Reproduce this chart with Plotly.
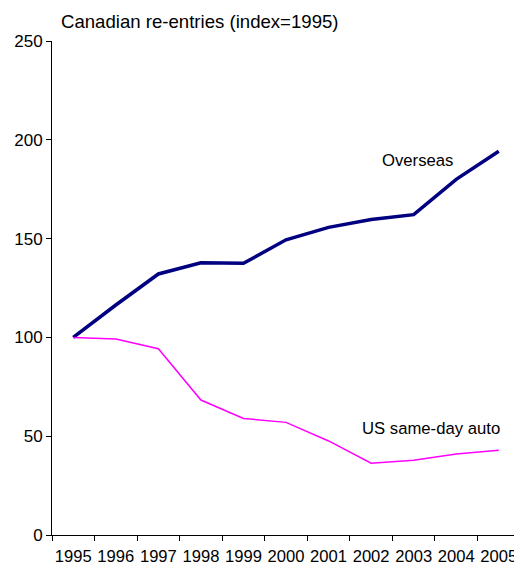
import plotly.graph_objects as go

years = ["1995", "1996", "1997", "1998", "1999", "2000", "2001", "2002", "2003", "2004", "2005"]
overseas = [100, 116.4, 132.1, 137.8, 137.5, 149.4, 155.7, 159.7, 162.1, 180.0, 194.2]
us_same_day_auto = [100, 99.2, 94.3, 68.3, 59.0, 57.0, 47.6, 36.3, 37.8, 41.0, 42.9]
y_ticks = [0, 50, 100, 150, 200, 250]

FONT = "Liberation Sans, Arial, sans-serif"
FS = 17
AFS = 16.7

fig = go.Figure()
fig.add_trace(go.Scatter(x=years, y=overseas, mode="lines", name="Overseas",
                         line=dict(color="#000080", width=3.5)))
fig.add_trace(go.Scatter(x=years, y=us_same_day_auto, mode="lines", name="US same-day auto",
                         line=dict(color="#FF00FF", width=1.5)))

fig.update_layout(
    width=514, height=566,
    margin=dict(l=52, r=0, t=41, b=31),
    paper_bgcolor="white", plot_bgcolor="white",
    showlegend=False,
    font=dict(family=FONT, size=FS, color="black"),
    xaxis=dict(type="category", range=[-0.5, 10.358], tickson="boundaries",
               ticks="outside", ticklen=5, tickcolor="black", tickwidth=1,
               showline=True, linecolor="black", linewidth=1, tickangle=0,
               automargin=False,
               showgrid=False, zeroline=False, ticklabelstandoff=6,
               tickfont=dict(family=FONT, size=16.6, color="black")),
    yaxis=dict(range=[0, 250], tickvals=y_ticks, ticks="outside", ticklen=5,
               tickcolor="black", tickwidth=1, showline=True, linecolor="black",
               linewidth=1, showgrid=False, zeroline=False, automargin=False,
               tickfont=dict(family=FONT, size=FS, color="black")),
    annotations=[
        dict(text="Canadian re-entries (index=1995)", xref="paper", yref="paper",
             x=(59 - 52) / 462, y=1 + (41 - 21.5) / 494, xanchor="left", yanchor="middle",
             showarrow=False, font=dict(family=FONT, size=18.6, color="black")),
        dict(text="Overseas", xref="paper", yref="y", x=(380 - 52) / 462, y=(535 - 160) / 1.976,
             xanchor="left", yanchor="middle", showarrow=False,
             font=dict(family=FONT, size=AFS, color="black")),
        dict(text="US same-day auto", xref="paper", yref="y", x=(360 - 52) / 462,
             y=(535 - 428) / 1.976, xanchor="left", yanchor="middle", showarrow=False,
             font=dict(family=FONT, size=AFS, color="black")),
    ],
)

fig.write_html("out.html", config={"displayModeBar": False},
               post_script="document.body.style.margin='0px';")
